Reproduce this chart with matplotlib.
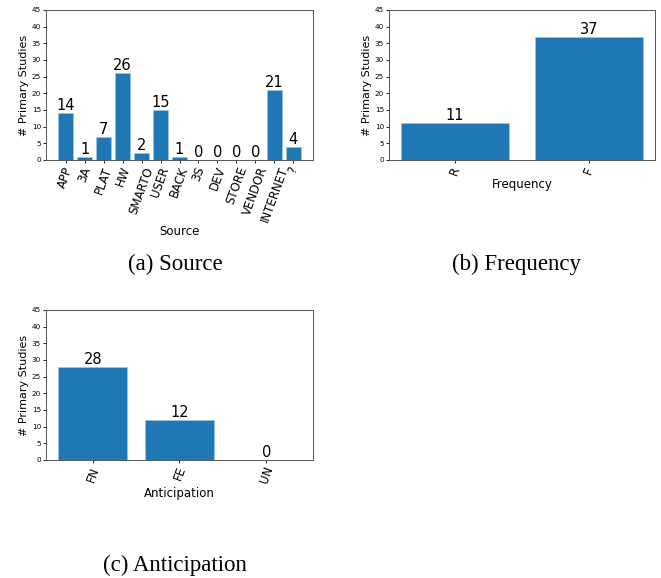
import matplotlib
matplotlib.use('Agg')
import matplotlib.pyplot as plt

# data
source_labels = ['APP', '3A', 'PLAT', 'HW', 'SMARTO', 'USER', 'BACK', '3S',
                 'DEV', 'STORE', 'VENDOR', 'INTERNET', '?']
source_counts = [14, 1, 7, 26, 2, 15, 1, 0, 0, 0, 0, 21, 4]

freq_labels = ['R', 'F']
freq_counts = [11, 37]

antic_labels = ['FN', 'FE', 'UN']
antic_counts = [28, 12, 0]

BLUE = '#1f77b4'


def bar_panel(ax, labels, counts, xlabel):
    """one bar chart with counts written on top"""
    x = range(len(labels))
    ax.bar(x, counts, width=0.8, color=BLUE, edgecolor='#9cc3e4', linewidth=0.6)
    for i, c in zip(x, counts):
        ax.text(i, c, str(c), ha='center', va='bottom', fontsize=10.5)
    ax.set_xticks(list(x))
    ax.set_xticklabels(labels, rotation=70, fontsize=8.5)
    ax.set_ylim(0, 45)
    ax.set_yticks(range(0, 46, 5))
    ax.tick_params(axis='y', labelsize=5.2, length=2, width=0.6, pad=1.5)
    ax.tick_params(axis='x', length=2, width=0.6, pad=1.5)
    ax.set_ylabel('# Primary Studies', fontsize=8, labelpad=2)
    ax.set_xlabel(xlabel, fontsize=8.5, labelpad=1)
    for s in ax.spines.values():
        s.set_color('#555555')
        s.set_linewidth(0.7)


fig = plt.figure(figsize=(6.61, 5.78), dpi=100)

ax_a = fig.add_axes([46 / 661, 1 - 160 / 578, 267 / 661, 150 / 578])
ax_b = fig.add_axes([389 / 661, 1 - 160 / 578, 266 / 661, 150 / 578])
ax_c = fig.add_axes([46 / 661, 1 - 460 / 578, 267 / 661, 150 / 578])

bar_panel(ax_a, source_labels, source_counts, 'Source')
bar_panel(ax_b, freq_labels, freq_counts, 'Frequency')
bar_panel(ax_c, antic_labels, antic_counts, 'Anticipation')

cap = dict(ha='center', va='center', fontsize=16.5, family='Liberation Serif')
fig.text(175 / 661, 1 - 264 / 578, '(a) Source', **cap)
fig.text(517 / 661, 1 - 264 / 578, '(b) Frequency', **cap)
fig.text(175 / 661, 1 - 565 / 578, '(c) Anticipation', **cap)

fig.savefig('out.png', dpi=100)
